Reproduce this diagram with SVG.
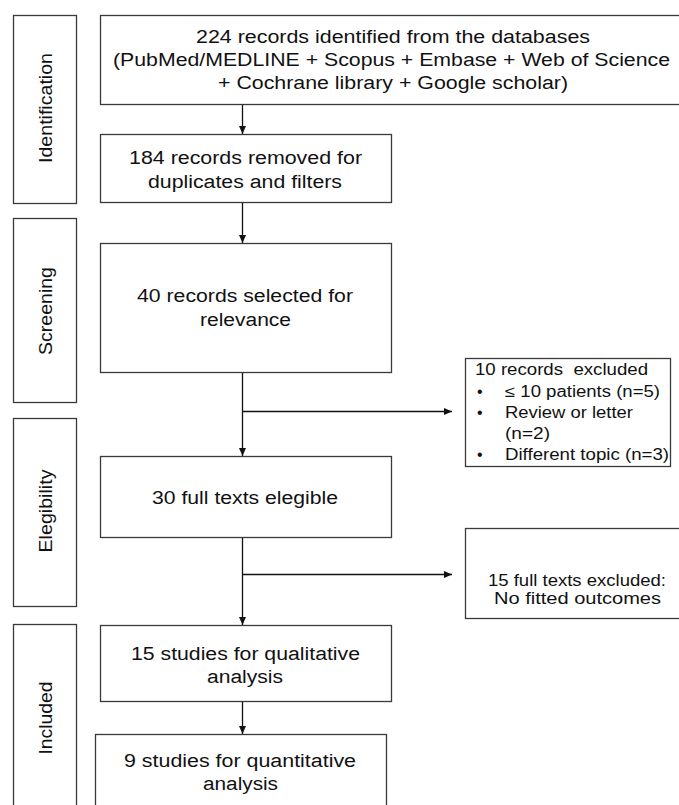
<svg xmlns="http://www.w3.org/2000/svg" width="679" height="805" viewBox="0 0 679 805">
<style>
.box{fill:#fff;stroke:#3a3a3a;stroke-width:1.3}
.t{font-family:"Liberation Sans",Arial,sans-serif;font-size:18px;fill:#111;text-anchor:middle}
.s{font-family:"Liberation Sans",Arial,sans-serif;font-size:16px;fill:#111}
.c{stroke:#111;stroke-width:1.3;fill:none}
</style>
<defs>
<marker id="ah" markerUnits="userSpaceOnUse" markerWidth="8" markerHeight="8" refX="8" refY="4" orient="auto">
<path d="M0,0.5 L8,4 L0,7.5 z" fill="#111"/>
</marker>
</defs>
<rect width="679" height="805" fill="#fff"/>
<g id="phase-identification"><rect class="box" x="13.5" y="15.5" width="63" height="188"/><text class="t" transform="translate(52,108) rotate(-90)" textLength="110" lengthAdjust="spacingAndGlyphs">Identification</text></g>
<g id="phase-screening"><rect class="box" x="13.5" y="218.5" width="63" height="184"/><text class="t" transform="translate(52,311) rotate(-90)" textLength="88" lengthAdjust="spacingAndGlyphs">Screening</text></g>
<g id="phase-eligibility"><rect class="box" x="13.5" y="418.5" width="63" height="188"/><text class="t" transform="translate(52,511) rotate(-90)" textLength="83" lengthAdjust="spacingAndGlyphs">Elegibility</text></g>
<g id="phase-included"><rect class="box" x="13.5" y="624.5" width="63" height="200"/><text class="t" transform="translate(52,718) rotate(-90)" textLength="73" lengthAdjust="spacingAndGlyphs">Included</text></g>
<g id="n1"><rect class="box" x="100.5" y="15.5" width="590" height="89"/>
<text class="t" x="393" y="43" textLength="394" lengthAdjust="spacingAndGlyphs">224 records identified from the databases</text>
<text class="t" x="391.5" y="66" textLength="557" lengthAdjust="spacingAndGlyphs">(PubMed/MEDLINE + Scopus + Embase + Web of Science</text>
<text class="t" x="393" y="89" textLength="350" lengthAdjust="spacingAndGlyphs">+ Cochrane library + Google scholar)</text></g>
<g id="n2"><rect class="box" x="100.5" y="134.5" width="291" height="68"/>
<text class="t" x="245.5" y="164" textLength="233" lengthAdjust="spacingAndGlyphs">184 records removed for</text>
<text class="t" x="245" y="188" textLength="194" lengthAdjust="spacingAndGlyphs">duplicates and filters</text></g>
<g id="n3"><rect class="box" x="100.5" y="243.5" width="291" height="129"/>
<text class="t" x="245" y="302" textLength="216" lengthAdjust="spacingAndGlyphs">40 records selected for</text>
<text class="t" x="245.5" y="326" textLength="91" lengthAdjust="spacingAndGlyphs">relevance</text></g>
<g id="n4"><rect class="box" x="100.5" y="456.5" width="291" height="81"/>
<text class="t" x="245" y="504" textLength="186" lengthAdjust="spacingAndGlyphs">30 full texts elegible</text></g>
<g id="n5"><rect class="box" x="100.5" y="625.5" width="291" height="76"/>
<text class="t" x="245.5" y="660" textLength="229" lengthAdjust="spacingAndGlyphs">15 studies for qualitative</text>
<text class="t" x="245" y="683" textLength="76" lengthAdjust="spacingAndGlyphs">analysis</text></g>
<g id="n6"><rect class="box" x="95.5" y="734.5" width="291" height="100"/>
<text class="t" x="240" y="767" textLength="232" lengthAdjust="spacingAndGlyphs">9 studies for quantitative</text>
<text class="t" x="240.5" y="790" textLength="75" lengthAdjust="spacingAndGlyphs">analysis</text></g>
<g id="x1"><rect class="box" x="465.5" y="358.5" width="205" height="108"/>
<text class="s" x="475" y="375" xml:space="preserve" textLength="173" lengthAdjust="spacingAndGlyphs">10 records  excluded</text>
<text class="s" x="477" y="397">•</text><text class="s" x="505" y="397" textLength="155" lengthAdjust="spacingAndGlyphs">≤ 10 patients (n=5)</text>
<text class="s" x="477" y="418">•</text><text class="s" x="505" y="418" textLength="128" lengthAdjust="spacingAndGlyphs">Review or letter</text>
<text class="s" x="505" y="439" textLength="45" lengthAdjust="spacingAndGlyphs">(n=2)</text>
<text class="s" x="477" y="460">•</text><text class="s" x="505" y="460" textLength="164" lengthAdjust="spacingAndGlyphs">Different topic (n=3)</text></g>
<g id="x2"><rect class="box" x="465.5" y="528.5" width="230" height="90"/>
<text class="s" x="577" y="586" text-anchor="middle" textLength="178" lengthAdjust="spacingAndGlyphs">15 full texts excluded:</text>
<text class="s" x="577.5" y="604" text-anchor="middle" textLength="167" lengthAdjust="spacingAndGlyphs">No fitted outcomes</text></g>
<g id="connectors">
<line class="c" x1="242.5" y1="105" x2="242.5" y2="134" marker-end="url(#ah)"/>
<line class="c" x1="242.5" y1="203" x2="242.5" y2="243" marker-end="url(#ah)"/>
<line class="c" x1="242.5" y1="373" x2="242.5" y2="456" marker-end="url(#ah)"/>
<line class="c" x1="242.5" y1="411.5" x2="452" y2="411.5" marker-end="url(#ah)"/>
<line class="c" x1="242.5" y1="538" x2="242.5" y2="625" marker-end="url(#ah)"/>
<line class="c" x1="242.5" y1="574.5" x2="452" y2="574.5" marker-end="url(#ah)"/>
<line class="c" x1="242.5" y1="702" x2="242.5" y2="734" marker-end="url(#ah)"/>
</g>
</svg>
